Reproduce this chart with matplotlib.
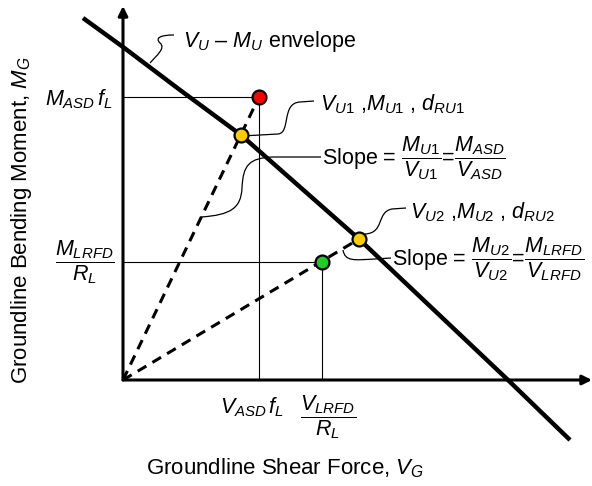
import matplotlib
matplotlib.use("Agg")
import matplotlib.pyplot as plt
from matplotlib.path import Path
from matplotlib.patches import PathPatch

plt.rcParams["font.family"] = ["Liberation Sans", "DejaVu Sans"]
plt.rcParams["mathtext.fontset"] = "custom"
plt.rcParams["mathtext.rm"] = "Liberation Sans"
plt.rcParams["mathtext.it"] = "Liberation Sans:italic"
plt.rcParams["mathtext.bf"] = "Liberation Sans:bold"

# V_U - M_U interaction envelope (shear V, moment M)
envelope_V = [-4.0, 0.0, 5.7, 11.8, 23.6, 38.5, 44.7]
envelope_M = [36.2, 33.3, 29.0, 24.5, 14.1, 0.0, -6.0]

# Design demand points and their projections onto the envelope
asd_point = (13.6, 28.3)     # (V_ASD f_L, M_ASD f_L)
lrfd_point = (19.9, 11.8)    # (V_LRFD / R_L, M_LRFD / R_L)
u1_point = (11.8, 24.5)      # (V_U1, M_U1)
u2_point = (23.6, 14.1)      # (V_U2, M_U2)

FS = 15.5
FS_AXIS = 16

fig = plt.figure(figsize=(5.92, 4.86), dpi=100)
ax = fig.add_axes([0, 0, 1, 1])
ax.set_xlim(-12.3, 46.9)
ax.set_ylim(-10.6, 38.0)
ax.axis("off")

# coordinate axes with arrow heads
ax.annotate("", xy=(46.9, 0), xytext=(0, 0),
            arrowprops=dict(arrowstyle="-|>", lw=2.2, color="black",
                            mutation_scale=14, shrinkA=0, shrinkB=0))
ax.annotate("", xy=(0, 37.4), xytext=(0, 0),
            arrowprops=dict(arrowstyle="-|>", lw=2.2, color="black",
                            mutation_scale=14, shrinkA=0, shrinkB=0))

# projection lines
ax.plot([0, asd_point[0]], [asd_point[1], asd_point[1]], color="black", lw=0.8)
ax.plot([asd_point[0], asd_point[0]], [0, asd_point[1]], color="black", lw=0.8)
ax.plot([0, lrfd_point[0]], [lrfd_point[1], lrfd_point[1]], color="black", lw=0.8)
ax.plot([lrfd_point[0], lrfd_point[0]], [0, lrfd_point[1]], color="black", lw=0.8)

# load rays through the origin
dash = (0, (3.3, 2.3))
ax.plot([0, asd_point[0]], [0, asd_point[1]], color="black", lw=2.2, linestyle=dash)
ax.plot([0, u2_point[0]], [0, u2_point[1]], color="black", lw=2.2, linestyle=dash)

# envelope
ax.plot(envelope_V, envelope_M, color="black", lw=3.2, solid_capstyle="butt",
        solid_joinstyle="round")

# markers
mk = dict(marker="o", markersize=10, markeredgecolor="black", markeredgewidth=1.6,
          linestyle="none", zorder=5)
ax.plot(*asd_point, markerfacecolor="#ff0000", **mk)
ax.plot(*u1_point, markerfacecolor="#ffcc00", **mk)
ax.plot(*u2_point, markerfacecolor="#ffcc00", **mk)
ax.plot(*lrfd_point, markerfacecolor="#22cc22", **mk)


def leader(verts, codes):
    ax.add_patch(PathPatch(Path(verts, codes), facecolor="none",
                           edgecolor="black", lw=0.9, zorder=3))


M, C, L = Path.MOVETO, Path.CURVE4, Path.LINETO
# envelope callout
leader([(2.7, 31.7),
        (3.4, 32.5), (4.3, 33.2), (3.7, 33.7),
        (3.2, 34.2), (3.7, 34.5), (5.1, 34.5)],
       [M, C, C, C, C, C, C])
# V_U1 callout
leader([(11.9, 24.4), (15.5, 24.6),
        (16.8, 24.7), (15.8, 27.7), (17.7, 27.8),
        (19.1, 27.9)],
       [M, L, C, C, C, L])
# slope 1 callout
leader([(7.8, 16.3),
        (10.8, 16.5), (11.8, 17.2), (11.9, 19.2),
        (12.0, 21.5), (12.6, 22.2), (15.0, 22.3),
        (19.8, 22.3)],
       [M, C, C, C, C, C, C, L])
# V_U2 callout
leader([(24.2, 14.6),
        (26.2, 14.7), (25.3, 16.8), (26.9, 17.1),
        (28.3, 17.2)],
       [M, C, C, C, L])
# slope 2 callout
leader([(22.0, 13.0),
        (22.2, 11.8), (23.2, 12.0), (25.2, 12.1),
        (26.8, 12.2)],
       [M, C, C, C, L])

# labels
ax.text(6.0, 33.9, r"$V_U$ – $M_U$ envelope", fontsize=FS, ha="left", va="center")
ax.text(19.7, 27.6, r"$V_{U1}$ ,$M_{U1}$ , $d_{RU1}$", fontsize=FS,
        ha="left", va="center")
ax.text(19.9, 22.2,
        r"Slope = $\dfrac{M_{U1}}{V_{U1}}$=$\dfrac{M_{ASD}}{V_{ASD}}$",
        fontsize=FS, ha="left", va="center")
ax.text(28.7, 16.8, r"$V_{U2}$ ,$M_{U2}$ , $d_{RU2}$", fontsize=FS,
        ha="left", va="center")
ax.text(26.9, 12.1,
        r"Slope = $\dfrac{M_{U2}}{V_{U2}}$=$\dfrac{M_{LRFD}}{V_{LRFD}}$",
        fontsize=FS, ha="left", va="center")

ax.text(-1.0, asd_point[1] - 0.2, r"$M_{ASD}\,f_L$", fontsize=FS, ha="right",
        va="center")
ax.text(-3.8, lrfd_point[1], r"$\dfrac{M_{LRFD}}{R_L}$", fontsize=FS,
        ha="center", va="center")
ax.text(12.9, -2.7, r"$V_{ASD}\,f_L$", fontsize=FS, ha="center", va="center")
ax.text(20.5, -3.7, r"$\dfrac{V_{LRFD}}{R_L}$", fontsize=FS, ha="center",
        va="center")

ax.text(16.2, -8.8, r"Groundline Shear Force, $V_G$", fontsize=FS_AXIS,
        ha="center", va="center")
ax.text(-10.1, 16.0, r"Groundline Bending Moment, $M_G$", fontsize=FS_AXIS,
        ha="center", va="center", rotation=90)

fig.savefig("out.png", dpi=100)
